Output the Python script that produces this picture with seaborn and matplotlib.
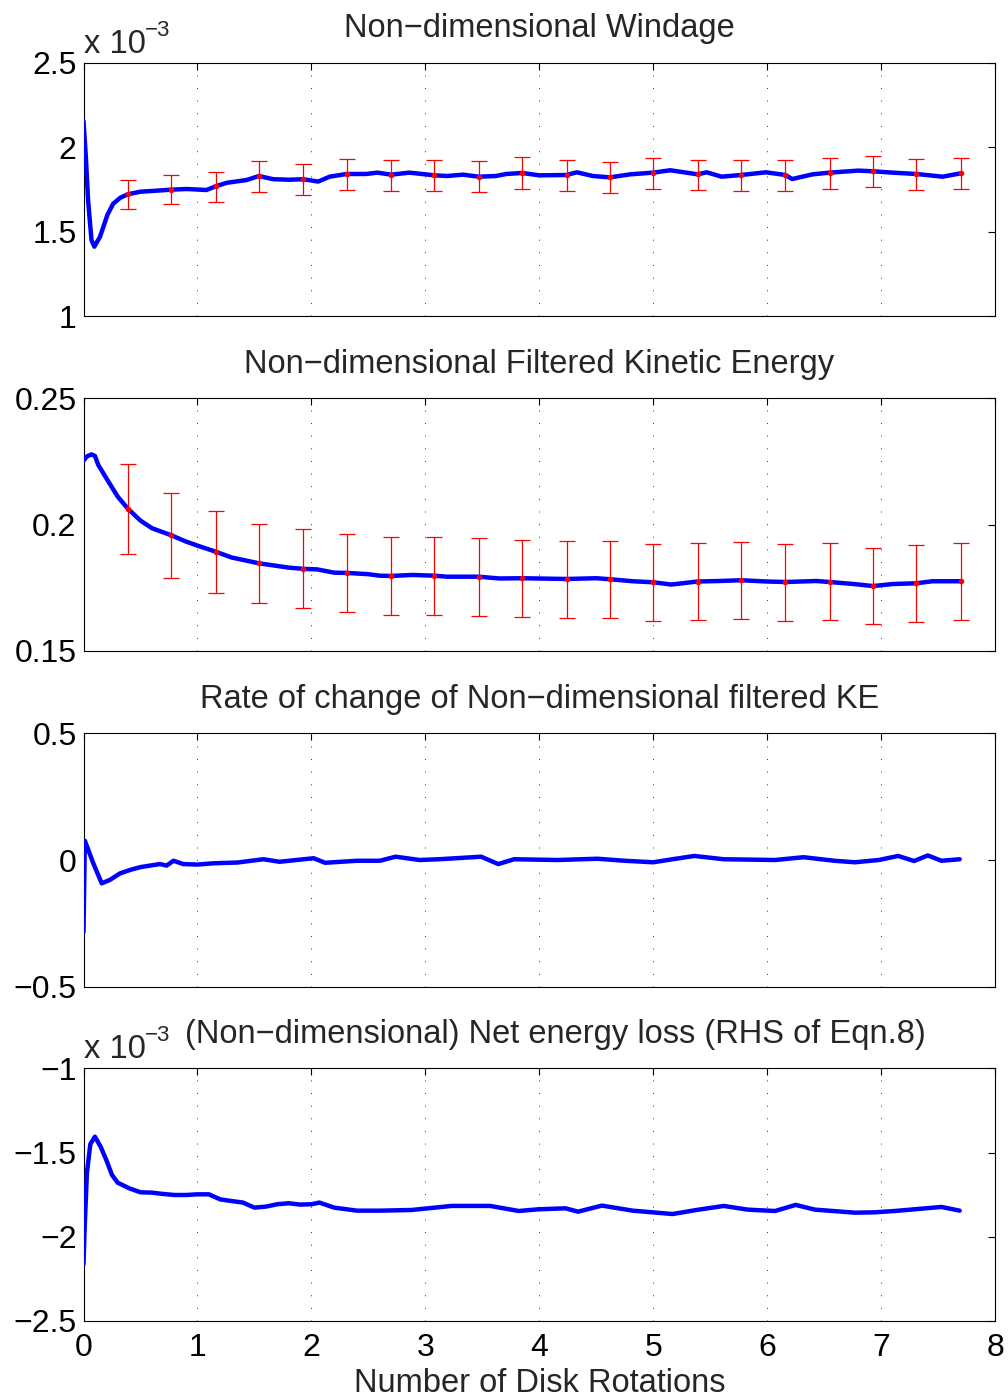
import numpy as np
import pandas as pd
import matplotlib
matplotlib.use("Agg")
import matplotlib.pyplot as plt
import seaborn as sns

# ---------------- data ----------------
# Panel 1: Non-dimensional windage (units of 1e-3)
w_x = [0.00, 0.02, 0.04, 0.07, 0.095, 0.145, 0.21, 0.26, 0.32, 0.39, 0.50, 0.64, 0.77, 0.905,
       1.08, 1.16, 1.26, 1.43, 1.54, 1.665, 1.81, 1.93, 2.06, 2.16, 2.31, 2.48, 2.58, 2.70,
       2.86, 3.08, 3.19, 3.33, 3.47, 3.62, 3.71, 3.85, 4.00, 4.24, 4.33, 4.47, 4.62, 4.80,
       5.00, 5.15, 5.39, 5.47, 5.60, 5.77, 5.99, 6.16, 6.22, 6.40, 6.55, 6.80, 6.93, 7.10,
       7.31, 7.54, 7.70]
w_y = [2.156, 1.95, 1.688, 1.451, 1.411, 1.47, 1.60, 1.665, 1.70, 1.722, 1.737, 1.743, 1.749, 1.753,
       1.747, 1.769, 1.790, 1.806, 1.830, 1.811, 1.808, 1.811, 1.797, 1.826, 1.842, 1.842, 1.850, 1.838,
       1.850, 1.834, 1.830, 1.838, 1.826, 1.830, 1.842, 1.848, 1.834, 1.836, 1.852, 1.830, 1.822, 1.840,
       1.850, 1.864, 1.840, 1.852, 1.826, 1.836, 1.852, 1.836, 1.812, 1.840, 1.850, 1.862, 1.858, 1.850,
       1.842, 1.826, 1.846]

eb_x = [0.39, 0.77, 1.16, 1.54, 1.93, 2.31, 2.70, 3.08, 3.47, 3.85,
        4.24, 4.62, 5.00, 5.39, 5.77, 6.16, 6.55, 6.93, 7.31, 7.70]
w_eb_mid = [1.722, 1.749, 1.769, 1.830, 1.811, 1.842, 1.838, 1.834, 1.826, 1.848,
            1.836, 1.822, 1.850, 1.840, 1.836, 1.836, 1.850, 1.858, 1.844, 1.846]
w_eb_lo = [1.633, 1.662, 1.678, 1.735, 1.719, 1.747, 1.741, 1.741, 1.735, 1.753,
           1.743, 1.729, 1.755, 1.745, 1.743, 1.743, 1.755, 1.765, 1.749, 1.751]
w_eb_hi = [1.805, 1.838, 1.856, 1.917, 1.900, 1.931, 1.925, 1.925, 1.917, 1.941,
           1.925, 1.911, 1.939, 1.927, 1.925, 1.925, 1.939, 1.951, 1.933, 1.935]

# Panel 2: Non-dimensional filtered kinetic energy
k_x = [0.00, 0.03, 0.07, 0.10, 0.13, 0.20, 0.30, 0.39, 0.50, 0.60, 0.77, 0.90, 1.00, 1.16,
       1.30, 1.54, 1.80, 1.93, 2.05, 2.20, 2.31, 2.50, 2.60, 2.70, 2.89, 3.08, 3.19, 3.47,
       3.65, 3.85, 4.24, 4.50, 4.62, 4.82, 5.00, 5.16, 5.39, 5.58, 5.77, 6.00, 6.16, 6.43,
       6.55, 6.76, 6.93, 7.10, 7.31, 7.45, 7.70]
k_y = [0.2253, 0.2270, 0.2278, 0.2272, 0.2236, 0.2184, 0.2111, 0.2063, 0.2016, 0.1986, 0.1958,
       0.1933, 0.1917, 0.1893, 0.1870, 0.1847, 0.1830, 0.1825, 0.1823, 0.1810, 0.1809, 0.1804,
       0.1798, 0.1797, 0.1801, 0.1798, 0.1794, 0.1794, 0.1787, 0.1788, 0.1785, 0.1788, 0.1784,
       0.1776, 0.1772, 0.1763, 0.1775, 0.1777, 0.1780, 0.1775, 0.1773, 0.1777, 0.1773, 0.1765,
       0.1757, 0.1765, 0.1768, 0.1776, 0.1776]
k_eb_mid = [0.2063, 0.1958, 0.1893, 0.1847, 0.1825, 0.1809, 0.1797, 0.1798, 0.1794, 0.1788,
            0.1785, 0.1785, 0.1772, 0.1775, 0.1779, 0.1773, 0.1775, 0.1757, 0.1768, 0.1776]
k_eb_lo = [0.1885, 0.1790, 0.1731, 0.1689, 0.1669, 0.1655, 0.1642, 0.1643, 0.1639, 0.1635,
           0.1631, 0.1632, 0.1619, 0.1622, 0.1627, 0.1620, 0.1622, 0.1607, 0.1616, 0.1622]
k_eb_hi = [0.2240, 0.2127, 0.2055, 0.2004, 0.1982, 0.1963, 0.1950, 0.1953, 0.1947, 0.1941,
           0.1937, 0.1937, 0.1925, 0.1926, 0.1930, 0.1925, 0.1926, 0.1908, 0.1921, 0.1926]

# Panel 3: rate of change of filtered KE
r_x = [0.000, 0.012, 0.086, 0.16, 0.23, 0.32, 0.41, 0.50, 0.67, 0.73, 0.79, 0.875, 1.00, 1.14,
       1.35, 1.58, 1.72, 2.02, 2.12, 2.40, 2.60, 2.74, 2.95, 3.12, 3.49, 3.64, 3.78, 4.16,
       4.51, 4.75, 5.00, 5.17, 5.36, 5.62, 6.07, 6.32, 6.59, 6.77, 6.98, 7.15, 7.29, 7.41,
       7.53, 7.69]
r_y = [-0.285, 0.076, -0.013, -0.092, -0.079, -0.053, -0.039, -0.028, -0.016, -0.022, -0.003,
       -0.016, -0.018, -0.013, -0.010, 0.003, -0.007, 0.007, -0.011, -0.003, -0.003, 0.013,
       0.000, 0.003, 0.013, -0.016, 0.003, 0.000, 0.005, -0.003, -0.009, 0.003, 0.016, 0.003,
       0.000, 0.011, -0.003, -0.009, 0.000, 0.016, -0.004, 0.018, -0.003, 0.003]

# Panel 4: net energy loss (units of 1e-3)
n_x = [0.000, 0.01, 0.03, 0.06, 0.10, 0.15, 0.20, 0.25, 0.30, 0.40, 0.50, 0.60, 0.70, 0.80,
       0.90, 1.00, 1.10, 1.20, 1.30, 1.40, 1.50, 1.60, 1.70, 1.80, 1.90, 2.00, 2.07, 2.20,
       2.40, 2.60, 2.88, 3.23, 3.57, 3.82, 3.99, 4.23, 4.34, 4.55, 4.82, 5.17, 5.38, 5.62,
       5.83, 6.07, 6.25, 6.42, 6.77, 6.94, 7.12, 7.53, 7.69]
n_y = [-2.163, -1.95, -1.62, -1.45, -1.406, -1.465, -1.544, -1.633, -1.679, -1.712, -1.736,
       -1.738, -1.746, -1.752, -1.752, -1.748, -1.748, -1.778, -1.788, -1.797, -1.827, -1.821,
       -1.807, -1.801, -1.809, -1.807, -1.797, -1.827, -1.845, -1.845, -1.841, -1.817, -1.817,
       -1.847, -1.837, -1.831, -1.851, -1.815, -1.845, -1.865, -1.841, -1.817, -1.839, -1.847,
       -1.811, -1.839, -1.857, -1.855, -1.847, -1.823, -1.845]

titles = ["Non\u2212dimensional Windage",
          "Non\u2212dimensional Filtered Kinetic Energy",
          "Rate of change of Non\u2212dimensional filtered KE",
          "(Non\u2212dimensional) Net energy loss (RHS of Eqn.8)"]
x_ticks = [0, 1, 2, 3, 4, 5, 6, 7, 8]
y_ticks = [[1, 1.5, 2, 2.5], [0.15, 0.2, 0.25], [-0.5, 0, 0.5], [-2.5, -2, -1.5, -1]]
y_ticklabels = [["1", "1.5", "2", "2.5"], ["0.15", "0.2", "0.25"],
                ["\u22120.5", "0", "0.5"], ["\u22122.5", "\u22122", "\u22121.5", "\u22121"]]
xlabel = "Number of Disk Rotations"
exp_base = "x 10"
exp_power = "\u22123"

# ---------------- style ----------------
sns.set_theme(style="white")
plt.rcParams["font.family"] = ["Liberation Sans", "DejaVu Sans"]
plt.rcParams["axes.edgecolor"] = "black"
plt.rcParams["axes.linewidth"] = 0.8

W, H = 1008, 1397
fig = plt.figure(figsize=(W / 100, H / 100), dpi=100)
left_px, right_px = 83.5, 995
panels_px = [(63, 316), (398.3, 651), (733.3, 986.7), (1068.3, 1321)]
axes = []
for top, bot in panels_px:
    ax = fig.add_axes([left_px / W, 1 - bot / H, (right_px - left_px) / W, (bot - top) / H])
    axes.append(ax)

FS = 23
FS_T = 23.5
series = [(w_x, w_y), (k_x, k_y), (r_x, r_y), (n_x, n_y)]
ylims = [(1, 2.5), (0.15, 0.25), (-0.5, 0.5), (-2.5, -1)]

for i, ax in enumerate(axes):
    xs, ys = series[i]
    df = pd.DataFrame({"x": xs, "y": ys})
    sns.lineplot(data=df, x="x", y="y", ax=ax, color="#0000ff", linewidth=3.2,
                 estimator=None, sort=False, zorder=3)
    ax.set_xlim(0, 8)
    ax.set_ylim(*ylims[i])
    ax.set_xticks(x_ticks)
    ax.set_yticks(y_ticks[i])
    ax.set_yticklabels(y_ticklabels[i])
    if i == 3:
        ax.set_xticklabels([str(t) for t in x_ticks])
    else:
        ax.set_xticklabels([])
    ax.set_xlabel("")
    ax.set_ylabel("")
    ax.tick_params(axis="both", which="both", direction="in", top=True, right=True,
                   length=5, width=0.8, colors="black", labelsize=FS)
    ax.tick_params(axis="x", pad=9)
    ax.tick_params(axis="y", pad=5)
    for s in ax.spines.values():
        s.set_visible(True)
        s.set_color("black")
        s.set_linewidth(0.8)
    ax.grid(False)
    for xv in x_ticks[1:-1]:
        ax.axvline(xv, color="#333333", linewidth=0.7, linestyle=(0, (1, 12)), zorder=1)
    h_ax = panels_px[i][1] - panels_px[i][0]
    tx = 0.5 if i < 3 else (555 - left_px) / (right_px - left_px)
    ax.text(tx, 1 + 25.5 / h_ax, titles[i], transform=ax.transAxes, ha="center",
            va="baseline", fontsize=FS_T)
    if i in (0, 3):
        ax.text(0.0, 1 + 10 / h_ax, exp_base, transform=ax.transAxes, ha="left",
                va="baseline", fontsize=FS_T)
        ax.text(61.5 / (right_px - left_px), 1 + 27 / h_ax, exp_power, transform=ax.transAxes,
                ha="left", va="baseline", fontsize=16)

# error bars
for ax, mid, lo, hi in [(axes[0], w_eb_mid, w_eb_lo, w_eb_hi),
                        (axes[1], k_eb_mid, k_eb_lo, k_eb_hi)]:
    mid_a = np.array(mid)
    yerr = [mid_a - np.array(lo), np.array(hi) - mid_a]
    ax.errorbar(eb_x, mid, yerr=yerr, fmt=".", color="#ff0000", ecolor="#ff0000",
                elinewidth=0.9, capsize=6, capthick=0.9, markersize=6, zorder=4)

axes[3].set_xlabel(xlabel, fontsize=FS_T, labelpad=3)

fig.savefig("out.png", dpi=100, facecolor="white")
